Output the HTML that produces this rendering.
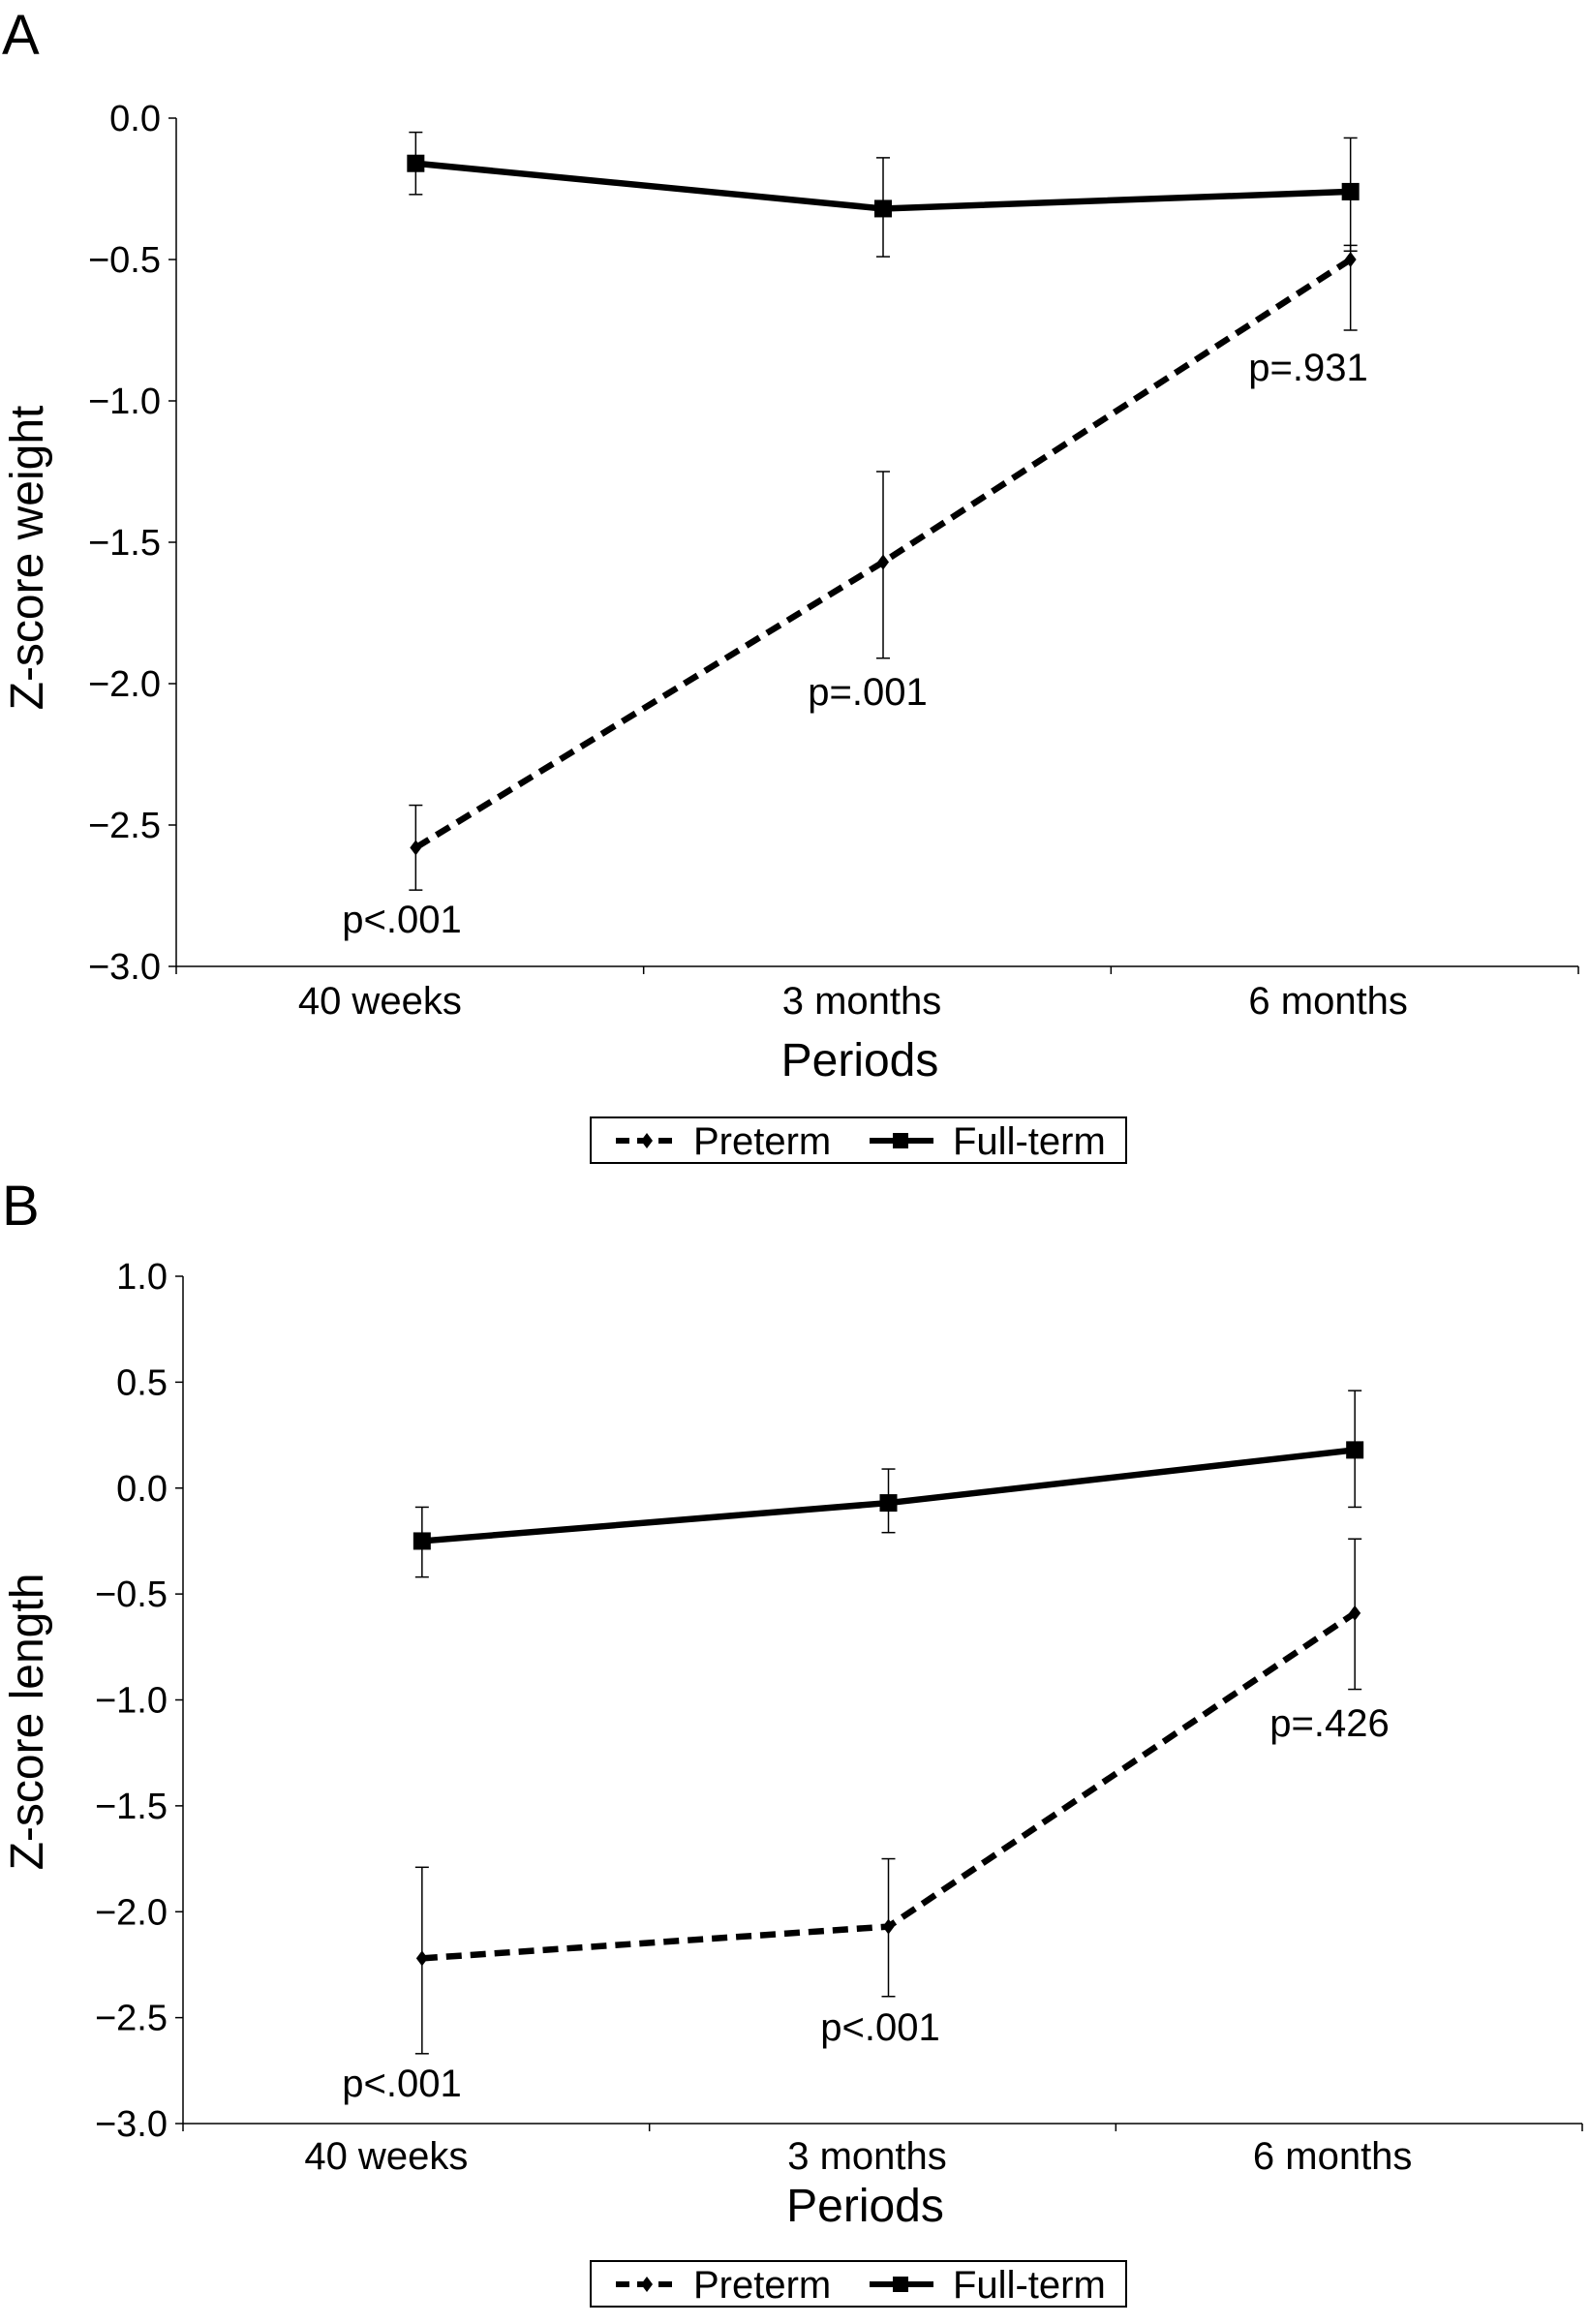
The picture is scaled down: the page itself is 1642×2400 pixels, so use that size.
<!DOCTYPE html>
<html><head><meta charset="utf-8">
<style>
html,body{margin:0;padding:0;background:#fff;}
svg{display:block;font-family:"Liberation Sans",Arial,sans-serif;}
</style></head>
<body>
<svg id="fig" width="1642" height="2400" viewBox="0 0 1642 2400"></svg>
<script>
const categories = ["40 weeks","3 months","6 months"];
// Panel A (weight)
const aFull = [-0.16,-0.32,-0.26];
const aFullHi = [-0.05,-0.14,-0.07];
const aFullLo = [-0.27,-0.49,-0.47];
const aPre = [-2.58,-1.57,-0.50];
const aPreHi = [-2.43,-1.25,-0.45];
const aPreLo = [-2.73,-1.91,-0.75];
const aP = ["p<.001","p=.001","p=.931"];
const aTicks = [0.0,-0.5,-1.0,-1.5,-2.0,-2.5,-3.0];
const aTickLabels = ["0.0","\u22120.5","\u22121.0","\u22121.5","\u22122.0","\u22122.5","\u22123.0"];
// Panel B (length)
const bFull = [-0.25,-0.07,0.18];
const bFullHi = [-0.09,0.09,0.46];
const bFullLo = [-0.42,-0.21,-0.09];
const bPre = [-2.22,-2.07,-0.59];
const bPreHi = [-1.79,-1.75,-0.24];
const bPreLo = [-2.67,-2.40,-0.95];
const bP = ["p<.001","p<.001","p=.426"];
const bTicks = [1.0,0.5,0.0,-0.5,-1.0,-1.5,-2.0,-2.5,-3.0];
const bTickLabels = ["1.0","0.5","0.0","\u22120.5","\u22121.0","\u22121.5","\u22122.0","\u22122.5","\u22123.0"];

const NS="http://www.w3.org/2000/svg";
const svg=document.getElementById('fig');
const catShift=[-31,-16,-17];
function mk(tag,attrs,parent,text){const e=document.createElementNS(NS,tag);for(const k in attrs)e.setAttribute(k,attrs[k]);if(text!==undefined)e.textContent=text;(parent||svg).appendChild(e);return e;}

function panel(o){
  const g=mk('g',{});
  
  
  const y=v=>o.y0+(o.vmax-v)/(o.vmax-o.vmin)*(o.y1-o.y0);
  const band=(o.xEnd-o.x0)/categories.length;
  const bc=i=>o.x0+band*(i+0.5);
  const x=i=>bc(i)+6;
  const lt=mk('text',{x:2,y:o.letterY,'font-size':58},g,o.letter);
  
  const ya=mk('line',{x1:o.x0,y1:o.y0,x2:o.x0,y2:o.y1,stroke:'#000','stroke-width':1.5},g);
  
  const xa=mk('line',{x1:o.x0,y1:o.y1,x2:o.xEnd,y2:o.y1,stroke:'#000','stroke-width':1.5},g);
  
  o.ticks.forEach((t,i)=>{
    mk('line',{x1:o.x0-8,y1:y(t),x2:o.x0,y2:y(t),stroke:'#000','stroke-width':1.5},g);
    const tl=mk('text',{x:o.x0-16,y:y(t)+13,'font-size':38,'text-anchor':'end'},g,o.tickLabels[i]);
    
  });
  for(let i=0;i<=categories.length;i++){
    const xx=o.x0+band*i;
    mk('line',{x1:xx,y1:o.y1,x2:xx,y2:o.y1+8,stroke:'#000','stroke-width':1.5},g);
  }
  categories.forEach((c,i)=>{
    const cl=mk('text',{x:bc(i)+catShift[i],y:o.catY,'font-size':40,'text-anchor':'middle'},g,c);
    
  });
  const xt=mk('text',{x:(o.x0+o.xEnd)/2-18,y:o.titleY,'font-size':48,'text-anchor':'middle'},g,'Periods');
  
  const yt=mk('text',{x:0,y:0,'font-size':48,'text-anchor':'middle',transform:`translate(${o.ytX},${o.ytY}) rotate(-90)`},g,o.yTitle);
  
  function err(hi,lo,nm){hi.forEach((h,i)=>{
    const eg=mk('g',{},g);
    
    mk('line',{x1:x(i),y1:y(h),x2:x(i),y2:y(lo[i]),stroke:'#000','stroke-width':1.5},eg);
    mk('line',{x1:x(i)-7,y1:y(h),x2:x(i)+7,y2:y(h),stroke:'#000','stroke-width':1.5},eg);
    mk('line',{x1:x(i)-7,y1:y(lo[i]),x2:x(i)+7,y2:y(lo[i]),stroke:'#000','stroke-width':1.5},eg);
  });}
  err(o.fullHi,o.fullLo,'full-term-error-bar');
  err(o.preHi,o.preLo,'preterm-error-bar');
  const fl=mk('polyline',{points:o.full.map((v,i)=>x(i)+','+y(v)).join(' '),fill:'none',stroke:'#000','stroke-width':6.5},g);
  
  o.full.forEach((v,i)=>{const m=mk('rect',{x:x(i)-9,y:y(v)-9,width:18,height:18,fill:'#000'},g);
    });
  const pl=mk('polyline',{points:o.pre.map((v,i)=>x(i)+','+y(v)).join(' '),fill:'none',stroke:'#000','stroke-width':6.5,'stroke-dasharray':'16,9'},g);
  
  o.pre.forEach((v,i)=>{const m=mk('polygon',{points:`${x(i)},${y(v)-8} ${x(i)+6},${y(v)} ${x(i)},${y(v)+8} ${x(i)-6},${y(v)}`,fill:'#000'},g);
    });
  o.pLabels.forEach((p,i)=>{const t=mk('text',{x:o.pPos[i][0],y:o.pPos[i][1],'font-size':40,'text-anchor':'middle'},g,p);
    });
  const lg=mk('g',{},g);
  
  const ly=o.legY;
  mk('rect',{x:610,y:ly,width:553,height:47,fill:'#fff',stroke:'#000','stroke-width':2},lg);
  mk('line',{x1:636,y1:ly+24,x2:700,y2:ly+24,stroke:'#000','stroke-width':6,'stroke-dasharray':'14,8'},lg);
  mk('polygon',{points:`668,${ly+16} 674,${ly+24} 668,${ly+32} 662,${ly+24}`,fill:'#000'},lg);
  const t1=mk('text',{x:716,y:ly+38,'font-size':40},lg,'Preterm');
  
  mk('line',{x1:898,y1:ly+24,x2:964,y2:ly+24,stroke:'#000','stroke-width':6},lg);
  mk('rect',{x:922,y:ly+16,width:16,height:16,fill:'#000'},lg);
  const t2=mk('text',{x:984,y:ly+38,'font-size':40},lg,'Full-term');
  
}

panel({name:'panel-a-weight',letter:'A',letterY:56,x0:182,xEnd:1630,y0:122,y1:998,vmax:0,vmin:-3,
  ticks:aTicks,tickLabels:aTickLabels,full:aFull,fullHi:aFullHi,fullLo:aFullLo,pre:aPre,preHi:aPreHi,preLo:aPreLo,
  pLabels:aP,pPos:[[415,963],[896,728],[1351,393]],catY:1047,titleY:1111,ytX:44,ytY:576,yTitle:'Z-score weight',legY:1154});
panel({name:'panel-b-length',letter:'B',letterY:1265,x0:189,xEnd:1634,y0:1318,y1:2193,vmax:1,vmin:-3,
  ticks:bTicks,tickLabels:bTickLabels,full:bFull,fullHi:bFullHi,fullLo:bFullLo,pre:bPre,preHi:bPreHi,preLo:bPreLo,
  pLabels:bP,pPos:[[415,2165],[909,2107],[1373,1793]],catY:2240,titleY:2294,ytX:44,ytY:1778,yTitle:'Z-score length',legY:2335});
</script>
</body></html>
